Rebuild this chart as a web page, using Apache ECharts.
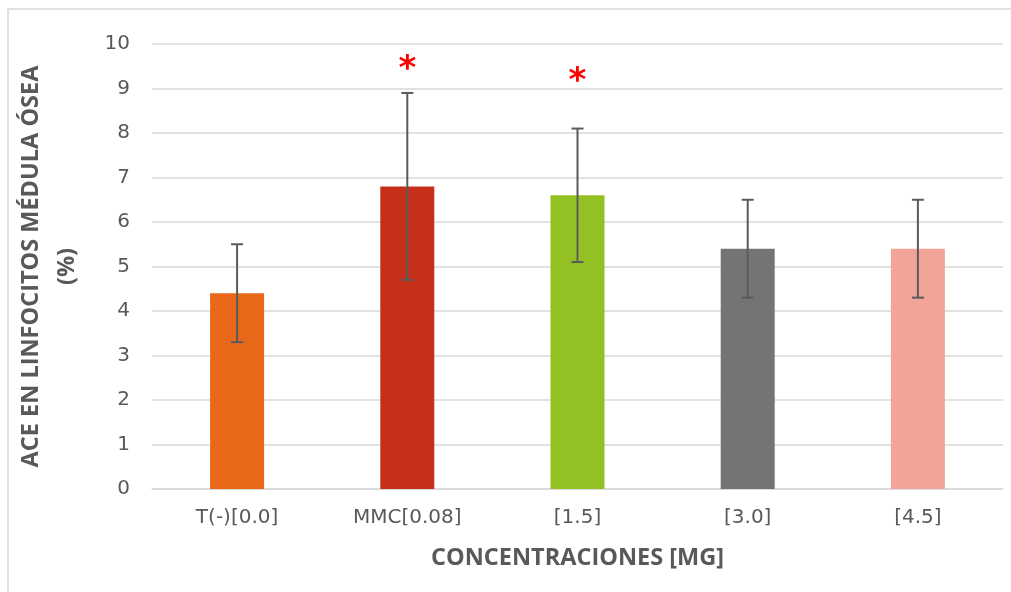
<!DOCTYPE html>
<html>
<head>
<meta charset="utf-8">
<script src="https://cdn.jsdelivr.net/npm/echarts@6/dist/echarts.min.js"></script>
<style>
  html, body { margin: 0; padding: 0; background: #ffffff; }
  #chart { width: 1011px; height: 592px; }
</style>
</head>
<body>
<div id="chart"></div>
<script>
// Concentration groups and measured means (%)
const categories = ['T(-)[0.0]', 'MMC[0.08]', '[1.5]', '[3.0]', '[4.5]'];
const means = [4.4, 6.8, 6.6, 5.4, 5.4];
// Lower / upper ends of the error bars
const errLow = [3.3, 4.7, 5.1, 4.3, 4.3];
const errHigh = [5.5, 8.9, 8.1, 6.5, 6.5];
// Significance markers and the level where they are drawn
const sigMarks = ['', '*', '*', '', ''];
const sigLevel = [null, 9.55, 9.28, null, null];
// Bar fill per group
const barColors = ['#E8681A', '#C5301B', '#93C123', '#747474', '#F2A498'];
// Value axis ticks
const yMin = 0, yMax = 10, yStep = 1;

const textColor = '#595959';
const gridColor = '#d9d9d9';

const chart = echarts.init(document.getElementById('chart'), null, { renderer: 'canvas' });

chart.setOption({
  animation: false,
  backgroundColor: '#ffffff',
  grid: { left: 152, right: 8, top: 44, bottom: 103, containLabel: false, outerBoundsMode: 'none' },
  graphic: [{
    type: 'rect',
    shape: { x: 8, y: 9, width: 1020, height: 600 },
    style: { fill: 'none', stroke: '#d9d9d9', lineWidth: 1.5 },
    silent: true,
    z: -10
  }],
  xAxis: {
    type: 'category',
    data: categories,
    name: 'CONCENTRACIONES [MG]',
    nameLocation: 'middle',
    nameGap: 57,
    nameTextStyle: { color: textColor, fontFamily: 'Open Sans', fontWeight: 'bold', fontSize: 23.5 },
    axisLine: { lineStyle: { color: gridColor, width: 1.5 } },
    axisTick: { show: false },
    axisLabel: { color: textColor, fontFamily: 'DejaVu Sans', fontSize: 20, margin: 19 }
  },
  yAxis: {
    type: 'value',
    min: yMin, max: yMax, interval: yStep,
    name: 'ACE EN LINFOCITOS MÉDULA ÓSEA\n(%)',
    nameLocation: 'middle',
    nameGap: 67,
    nameRotate: 90,
    nameTextStyle: { color: textColor, fontFamily: 'Open Sans', fontWeight: 'bold', fontSize: 23.5, lineHeight: 36, align: 'center' },
    axisLine: { show: false },
    axisTick: { show: false },
    axisLabel: { color: textColor, fontFamily: 'DejaVu Sans', fontSize: 20, margin: 22 },
    splitLine: { lineStyle: { color: gridColor, width: 1.5 } }
  },
  series: [
    {
      type: 'bar',
      barWidth: 54,
      data: means.map((v, i) => ({ value: v, itemStyle: { color: barColors[i] } })),
      z: 2
    },
    {
      // Error bars with caps
      type: 'custom',
      data: categories.map((c, i) => [i, errLow[i], errHigh[i]]),
      renderItem: function (params, api) {
        const x = api.value(0);
        const lo = api.coord([x, api.value(1)]);
        const hi = api.coord([x, api.value(2)]);
        const cap = 6;
        const style = { stroke: '#5a5a5a', lineWidth: 2, fill: 'none' };
        return {
          type: 'group',
          children: [
            { type: 'line', shape: { x1: hi[0], y1: hi[1], x2: lo[0], y2: lo[1] }, style },
            { type: 'line', shape: { x1: hi[0] - cap, y1: hi[1], x2: hi[0] + cap, y2: hi[1] }, style },
            { type: 'line', shape: { x1: lo[0] - cap, y1: lo[1], x2: lo[0] + cap, y2: lo[1] }, style }
          ]
        };
      },
      z: 3
    },
    {
      // Significance asterisks
      type: 'custom',
      data: categories.map((c, i) => [i, sigLevel[i], sigMarks[i]]).filter(d => d[1] !== null),
      renderItem: function (params, api) {
        const p = api.coord([api.value(0), api.value(1)]);
        return {
          type: 'text',
          x: p[0],
          y: p[1] + 6,
          style: {
            text: '*',
            fill: '#ff0000',
            font: 'bold 34px "DejaVu Sans"',
            align: 'center',
            verticalAlign: 'middle'
          }
        };
      },
      z: 4
    }
  ]
});
</script>
</body>
</html>
